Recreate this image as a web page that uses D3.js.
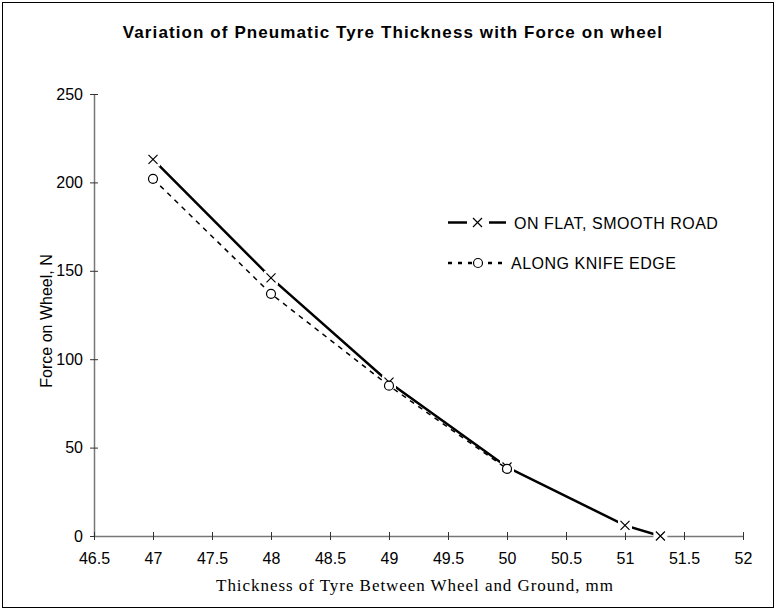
<!DOCTYPE html>
<html>
<head>
<meta charset="utf-8">
<script src="https://cdn.jsdelivr.net/npm/d3@7"></script>
<style>
  body { margin: 0; background: #fff; }
  svg { display: block; }
</style>
</head>
<body>
<svg id="chart"></svg>
<script>
// data
const thicknessFlat = [47, 48, 49, 50, 51, 51.3];
const forceFlat = [213, 146, 87, 39, 6, 0];
const thicknessKnife = [47, 48, 49, 50];
const forceKnife = [202, 137, 85, 38];
const xTicks = [46.5, 47, 47.5, 48, 48.5, 49, 49.5, 50, 50.5, 51, 51.5, 52];
const yTicks = [0, 50, 100, 150, 200, 250];
const seriesNames = ["ON FLAT, SMOOTH ROAD", "ALONG KNIFE EDGE"];

(function () {
  const W = 776, H = 612;
  const plot = { left: 94, right: 743, top: 94, bottom: 536 };
  const sans = "Liberation Sans, Arial, sans-serif";

  const svg = d3.select("#chart").attr("width", W).attr("height", H);

  // outer frame
  svg.append("rect")
    .attr("x", 2.5).attr("y", 2.5)
    .attr("width", W - 5).attr("height", H - 7)
    .attr("fill", "#fff").attr("stroke", "#000").attr("stroke-width", 1);

  const x = d3.scaleLinear().domain([46.5, 52]).range([plot.left, plot.right]);
  const y = d3.scaleLinear().domain([0, 250]).range([plot.bottom, plot.top]);

  // title
  svg.append("text")
    .attr("x", 393).attr("y", 38)
    .attr("text-anchor", "middle")
    .attr("font-family", sans)
    .attr("font-weight", "bold")
    .attr("font-size", "17px")
    .attr("letter-spacing", "1.1px")
    .text("Variation of Pneumatic Tyre Thickness with Force on wheel");

  // axes with crossing ticks (Excel style)
  const yAxis = svg.append("g")
    .attr("transform", `translate(${plot.left},0)`)
    .call(d3.axisLeft(y).tickValues(yTicks).tickSizeInner(4).tickSizeOuter(0).tickPadding(7));
  yAxis.selectAll(".tick line").attr("x2", -4).attr("x1", 4);

  const xAxis = svg.append("g")
    .attr("transform", `translate(0,${plot.bottom})`)
    .call(d3.axisBottom(x).tickValues(xTicks).tickFormat(d3.format("")).tickSizeInner(4).tickSizeOuter(0).tickPadding(13));
  xAxis.selectAll(".tick line").attr("y1", -4).attr("y2", 4);

  [xAxis, yAxis].forEach((g) => {
    g.select(".domain").attr("stroke", "#777").attr("stroke-width", 1.5);
    g.selectAll(".tick line").attr("stroke", "#333");
    g.selectAll("text")
      .attr("font-family", sans)
      .attr("font-size", "16px")
      .attr("fill", "#000");
  });

  // axis titles
  svg.append("text")
    .attr("x", 415).attr("y", 591)
    .attr("text-anchor", "middle")
    .attr("font-family", "Liberation Serif, Times New Roman, serif")
    .attr("font-size", "17px")
    .attr("letter-spacing", "0.95px")
    .text("Thickness of Tyre Between Wheel and Ground, mm");

  svg.append("text")
    .attr("transform", "translate(52,321) rotate(-90)")
    .attr("text-anchor", "middle")
    .attr("font-family", sans)
    .attr("font-size", "16px")
    .text("Force on Wheel, N");

  const flat = thicknessFlat.map((t, i) => ({ t, f: forceFlat[i] }));
  const knife = thicknessKnife.map((t, i) => ({ t, f: forceKnife[i] }));

  const line = d3.line().x((d) => x(d.t)).y((d) => y(d.f));

  function crossMark(g, cx, cy) {
    g.append("rect")
      .attr("x", cx - 7).attr("y", cy - 7).attr("width", 14).attr("height", 14)
      .attr("fill", "#fff");
    g.append("path")
      .attr("d", `M${cx - 4.5},${cy - 4.5}L${cx + 4.5},${cy + 4.5}M${cx - 4.5},${cy + 4.5}L${cx + 4.5},${cy - 4.5}`)
      .attr("stroke", "#000").attr("stroke-width", 1.2).attr("fill", "none");
  }
  function circleMark(g, cx, cy) {
    g.append("circle")
      .attr("cx", cx).attr("cy", cy).attr("r", 4.5)
      .attr("fill", "#fff").attr("stroke", "#000").attr("stroke-width", 1.2);
  }

  // flat road series
  const gFlat = svg.append("g");
  gFlat.append("path").datum(flat)
    .attr("d", line).attr("fill", "none")
    .attr("stroke", "#000").attr("stroke-width", 2.5);
  flat.forEach((d) => crossMark(gFlat, x(d.t), y(d.f)));

  // knife edge series
  const gKnife = svg.append("g");
  gKnife.append("path").datum(knife)
    .attr("d", line).attr("fill", "none")
    .attr("stroke", "#000").attr("stroke-width", 1.5)
    .attr("stroke-dasharray", "5,5");
  knife.forEach((d) => circleMark(gKnife, x(d.t), y(d.f)));

  // legend
  const leg = svg.append("g")
    .attr("font-family", sans)
    .attr("font-size", "16px")
    .attr("letter-spacing", "0.5px");

  leg.append("line").attr("x1", 448).attr("x2", 467).attr("y1", 222.5).attr("y2", 222.5)
    .attr("stroke", "#000").attr("stroke-width", 2.5);
  leg.append("line").attr("x1", 489).attr("x2", 506).attr("y1", 222.5).attr("y2", 222.5)
    .attr("stroke", "#000").attr("stroke-width", 2.5);
  leg.append("path")
    .attr("d", "M473,218L482,227M473,227L482,218")
    .attr("stroke", "#000").attr("stroke-width", 1.2);
  leg.append("text").attr("x", 514).attr("y", 228.5).text(seriesNames[0]);

  leg.append("line").attr("x1", 448).attr("x2", 507).attr("y1", 263).attr("y2", 263)
    .attr("stroke", "#000").attr("stroke-width", 2.5)
    .attr("stroke-dasharray", "4,6");
  leg.append("circle").attr("cx", 478).attr("cy", 263).attr("r", 4.5)
    .attr("fill", "#fff").attr("stroke", "#000").attr("stroke-width", 1.2);
  leg.append("text").attr("x", 511).attr("y", 269).text(seriesNames[1]);
})();
</script>
</body>
</html>
